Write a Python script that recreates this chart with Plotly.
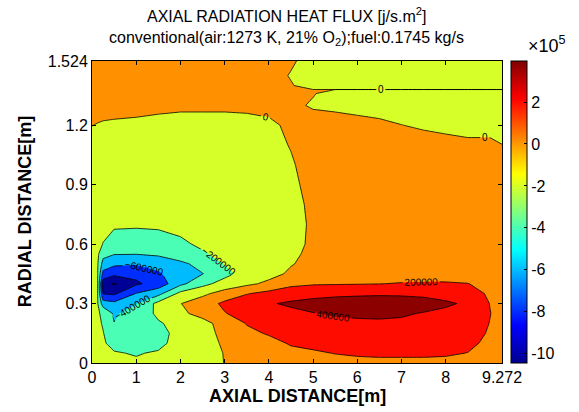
import numpy as np
import plotly.graph_objects as go

# Axial distance (m) grid columns
X_AXIAL = [0, 0.125, 0.25, 0.5, 1.0, 1.5, 2.0, 2.5, 3.0, 3.5, 4.0, 4.5, 5.0, 5.5,
           6.0, 6.5, 7.0, 7.5, 8.0, 8.5, 9.0, 9.272]
# Radial distance (m) grid rows
Y_RADIAL = [0, 0.05, 0.1, 0.15, 0.2, 0.25, 0.3, 0.35, 0.4, 0.45, 0.5, 0.55, 0.6,
            0.7, 0.8, 0.9, 1.0, 1.1, 1.2, 1.3, 1.36, 1.38, 1.40, 1.45, 1.524]
# Axial radiation heat flux, in units of 1e5 J/s.m^2 (one list per radial row)
FLUX_E5 = [
    [-1.2, -1.35, -1.5, -1.7, -1.8, -1.6, -1.0, -0.6, 0.03, 0.4, 0.8, 1.2, 1.4, 1.5, 1.6, 1.6, 1.6, 1.6, 1.6, 1.4, 1.0, 0.8],
    [-1.3, -1.5, -1.7, -1.9, -2.1, -1.85, -1.2, -0.55, 0.05, 0.6, 1.0, 1.6, 1.8, 2.05, 2.2, 2.3, 2.3, 2.3, 2.2, 1.97, 1.2, 0.9],
    [-1.4, -1.6, -1.85, -2.4, -2.8, -2.4, -1.4, -0.45, 0.15, 0.8, 1.5, 2.15, 2.4, 2.6, 2.7, 2.8, 2.8, 2.8, 2.7, 2.4, 1.6, 1.1],
    [-1.5, -1.7, -1.95, -2.8, -3.3, -2.5, -1.5, -0.5, 0.35, 1.6, 2.15, 2.7, 3.0, 3.1, 3.2, 3.3, 3.3, 3.2, 3.1, 2.8, 1.8, 1.2],
    [-1.6, -1.75, -2.1, -3.95, -3.4, -2.15, -1.5, -0.5, 0.6, 2.1, 2.5, 3.1, 3.5, 3.7, 3.8, 3.85, 3.85, 3.8, 3.6, 3.1, 1.95, 1.3],
    [-1.7, -1.8, -2.3, -4.3, -3.0, -1.7, -0.3, 0.5, 1.9, 2.8, 3.2, 3.6, 3.95, 4.15, 4.2, 4.2, 4.1, 3.95, 3.7, 3.3, 2.05, 1.4],
    [-1.8, -1.85, -5.0, -5.5, -4.1, -1.4, -0.05, 1.0, 2.4, 3.2, 3.85, 4.25, 4.5, 4.6, 4.6, 4.6, 4.5, 4.35, 4.2, 3.8, 1.95, 1.3],
    [-1.8, -1.9, -8.1, -8.3, -5.9, -4.6, -1.4, -0.4, 0.8, 1.9, 2.6, 3.2, 3.5, 3.7, 3.8, 3.85, 3.85, 3.8, 3.5, 2.9, 1.7, 1.2],
    [-1.8, -1.9, -9.2, -10.2, -8.3, -7.2, -4.5, -2.6, -1.2, -0.4, 0.4, 1.5, 1.8, 1.85, 1.9, 1.97, 2.1, 2.2, 2.2, 2.05, 1.3, 0.9],
    [-1.7, -1.85, -6.6, -7.5, -7.5, -6.3, -4.6, -4.05, -2.6, -1.2, -0.6, 0.3, 0.8, 1.0, 1.1, 1.15, 1.2, 1.15, 1.1, 1.0, 0.8, 0.6],
    [-1.6, -1.8, -4.8, -5.6, -5.8, -5.2, -4.4, -3.4, -1.9, -1.0, -0.5, -0.1, 0.5, 0.8, 0.9, 1.0, 1.0, 1.0, 0.95, 0.9, 0.7, 0.55],
    [-1.5, -1.65, -3.3, -3.9, -3.95, -3.7, -3.0, -2.2, -1.5, -0.9, -0.6, -0.25, 0.3, 0.6, 0.75, 0.85, 0.9, 0.9, 0.85, 0.8, 0.65, 0.5],
    [-1.4, -1.5, -2.05, -2.9, -3.0, -2.8, -2.3, -1.7, -1.2, -0.8, -0.6, -0.35, 0.2, 0.5, 0.65, 0.75, 0.8, 0.8, 0.8, 0.75, 0.6, 0.5],
    [-1.2, -1.3, -1.5, -1.7, -1.75, -1.7, -1.5, -1.2, -1.0, -0.8, -0.6, -0.35, 0.15, 0.45, 0.6, 0.7, 0.7, 0.7, 0.7, 0.65, 0.55, 0.45],
    [-1.0, -1.05, -1.1, -1.2, -1.3, -1.3, -1.2, -1.0, -0.9, -0.7, -0.55, -0.3, 0.2, 0.45, 0.55, 0.6, 0.65, 0.65, 0.6, 0.6, 0.5, 0.4],
    [-0.9, -0.9, -0.95, -1.0, -1.05, -1.05, -1.0, -0.9, -0.8, -0.65, -0.5, -0.2, 0.3, 0.45, 0.5, 0.55, 0.55, 0.55, 0.55, 0.5, 0.45, 0.35],
    [-0.8, -0.8, -0.85, -0.9, -0.9, -0.9, -0.9, -0.8, -0.7, -0.6, -0.45, -0.1, 0.4, 0.45, 0.45, 0.45, 0.45, 0.45, 0.45, 0.4, 0.35, 0.3],
    [-0.5, -0.5, -0.55, -0.6, -0.65, -0.65, -0.65, -0.6, -0.5, -0.4, -0.3, 0.05, 0.4, 0.45, 0.45, 0.4, 0.35, 0.3, 0.25, 0.15, 0.15, 0.01],
    [0.02, -0.05, -0.1, -0.15, -0.2, -0.25, -0.3, -0.3, -0.3, -0.3, -0.2, 0.2, 0.4, 0.4, 0.3, 0.15, 0.01, -0.1, -0.2, -0.25, -0.25, -0.25],
    [0.5, 0.4, 0.35, 0.35, 0.3, 0.2, 0.15, 0.15, 0.15, 0.2, 0.3, 0.2, -0.1, -0.2, -0.3, -0.3, -0.35, -0.4, -0.4, -0.45, -0.45, -0.45],
    [0.5, 0.45, 0.4, 0.4, 0.35, 0.3, 0.3, 0.3, 0.3, 0.3, 0.3, 0.2, 0.05, -0.3, -0.35, -0.4, -0.4, -0.45, -0.45, -0.45, -0.45, -0.45],
    [0.5, 0.45, 0.4, 0.4, 0.35, 0.3, 0.3, 0.3, 0.3, 0.3, 0.3, 0.15, 0.002, 0.002, 0.002, 0.002, 0.002, 0.002, 0.002, 0.002, 0.002, 0.002],
    [0.5, 0.45, 0.4, 0.4, 0.35, 0.3, 0.3, 0.3, 0.3, 0.3, 0.3, 0.05, -0.3, -0.35, -0.35, -0.35, -0.35, -0.35, -0.35, -0.35, -0.35, -0.35],
    [0.5, 0.45, 0.4, 0.4, 0.35, 0.3, 0.3, 0.3, 0.3, 0.3, 0.3, -0.05, -0.3, -0.35, -0.35, -0.35, -0.35, -0.35, -0.35, -0.35, -0.35, -0.35],
    [0.5, 0.45, 0.4, 0.4, 0.35, 0.3, 0.3, 0.3, 0.3, 0.3, 0.3, 0.1, -0.3, -0.35, -0.35, -0.35, -0.35, -0.35, -0.35, -0.35, -0.35, -0.35],
]
SCALE = 1e5
LEVEL_START, LEVEL_END, LEVEL_STEP = -10e5, 4e5, 2e5
CBAR_MIN, CBAR_MAX = -10.45e5, 3.96e5
CBAR_TICKS = [-10, -8, -6, -4, -2, 0, 2]
X_TICKS = [0, 1, 2, 3, 4, 5, 6, 7, 8, 9.272]
Y_TICKS = [0, 0.3, 0.6, 0.9, 1.2, 1.524]

z = np.array(FLUX_E5) * SCALE

# band fill colours (MATLAB jet sampled at each band's lower level)
band_colors = ["rgb(0,0,125)", "rgb(0,0,150)", "rgb(0,46,255)", "rgb(0,188,255)",
               "rgb(74,255,181)", "rgb(214,255,41)", "rgb(255,145,0)",
               "rgb(255,12,0)", "rgb(140,0,0)"]
n = len(band_colors) - 1
fill_scale = [[i / n, c] for i, c in enumerate(band_colors)]

jet = [[0, "rgb(0,0,143)"], [0.125, "rgb(0,0,255)"], [0.375, "rgb(0,255,255)"],
       [0.625, "rgb(255,255,0)"], [0.875, "rgb(255,0,0)"], [1, "rgb(128,0,0)"]]

FONT = "Liberation Sans, Arial, Helvetica, sans-serif"

fig = go.Figure()
fig.add_trace(go.Contour(
    x=X_AXIAL, y=Y_RADIAL, z=z,
    autocontour=False,
    contours=dict(start=LEVEL_START, end=LEVEL_END, size=LEVEL_STEP,
                  coloring="fill", showlabels=True,
                  labelfont=dict(size=10, color="black", family=FONT),
                  labelformat=".0f"),
    colorscale=fill_scale, showscale=False,
    line=dict(color="black", width=0.8, smoothing=0),
    hoverinfo="skip",
))
fig.add_trace(go.Scatter(
    x=[None], y=[None], mode="markers", showlegend=False, hoverinfo="skip",
    marker=dict(color=[0], colorscale=jet, cmin=CBAR_MIN, cmax=CBAR_MAX,
                showscale=True,
                colorbar=dict(x=1.022, xanchor="left", xpad=0, y=0.5, yanchor="middle",
                              ypad=0, len=1.0, lenmode="fraction", thickness=16,
                              outlinecolor="black", outlinewidth=1,
                              tickvals=[v * SCALE for v in CBAR_TICKS],
                              ticktext=[str(v) for v in CBAR_TICKS],
                              ticks="inside", ticklen=3, tickcolor="black",
                              tickfont=dict(size=16, color="black", family=FONT))),
))

axis_common = dict(showline=True, linecolor="black", linewidth=1, mirror="ticks",
                   ticks="inside", ticklen=4, tickcolor="black", showgrid=False,
                   zeroline=False, tickfont=dict(size=16, color="black", family=FONT))
fig.update_xaxes(range=[0, 9.272], tickvals=X_TICKS,
                 ticktext=["0", "1", "2", "3", "4", "5", "6", "7", "8", "9.272"],
                 **axis_common)
fig.update_yaxes(range=[0, 1.524], tickvals=Y_TICKS,
                 ticktext=["0", "0.3", "0.6", "0.9", "1.2", "1.524"], **axis_common)

ann = [
    dict(text="AXIAL RADIATION HEAT FLUX [j/s.m<sup>2</sup>]", x=0.475, y=1.153,
         font=dict(size=16)),
    dict(text="conventional(air:1273 K, 21% O<sub>2</sub>);fuel:0.1745 kg/s", x=0.475,
         y=1.074, font=dict(size=16)),
    dict(text="\u00d710<sup>5</sup>", x=1.11, y=1.055, font=dict(size=18)),
    dict(text="<b>AXIAL DISTANCE[m]</b>", x=0.5, y=-0.108, font=dict(size=18)),
    dict(text="<b>RADIAL DISTANCE[m]</b>", x=-0.163, y=0.5, textangle=-90,
         font=dict(size=18)),
]
for a in ann:
    a.update(xref="paper", yref="paper", showarrow=False, xanchor="center",
             yanchor="middle")
    a["font"].update(color="black", family=FONT)
fig.update_layout(
    width=579, height=412,
    margin=dict(l=92, r=77, t=61, b=49),
    paper_bgcolor="white", plot_bgcolor="white",
    annotations=ann, showlegend=False,
)
fig.write_html("out.html")
